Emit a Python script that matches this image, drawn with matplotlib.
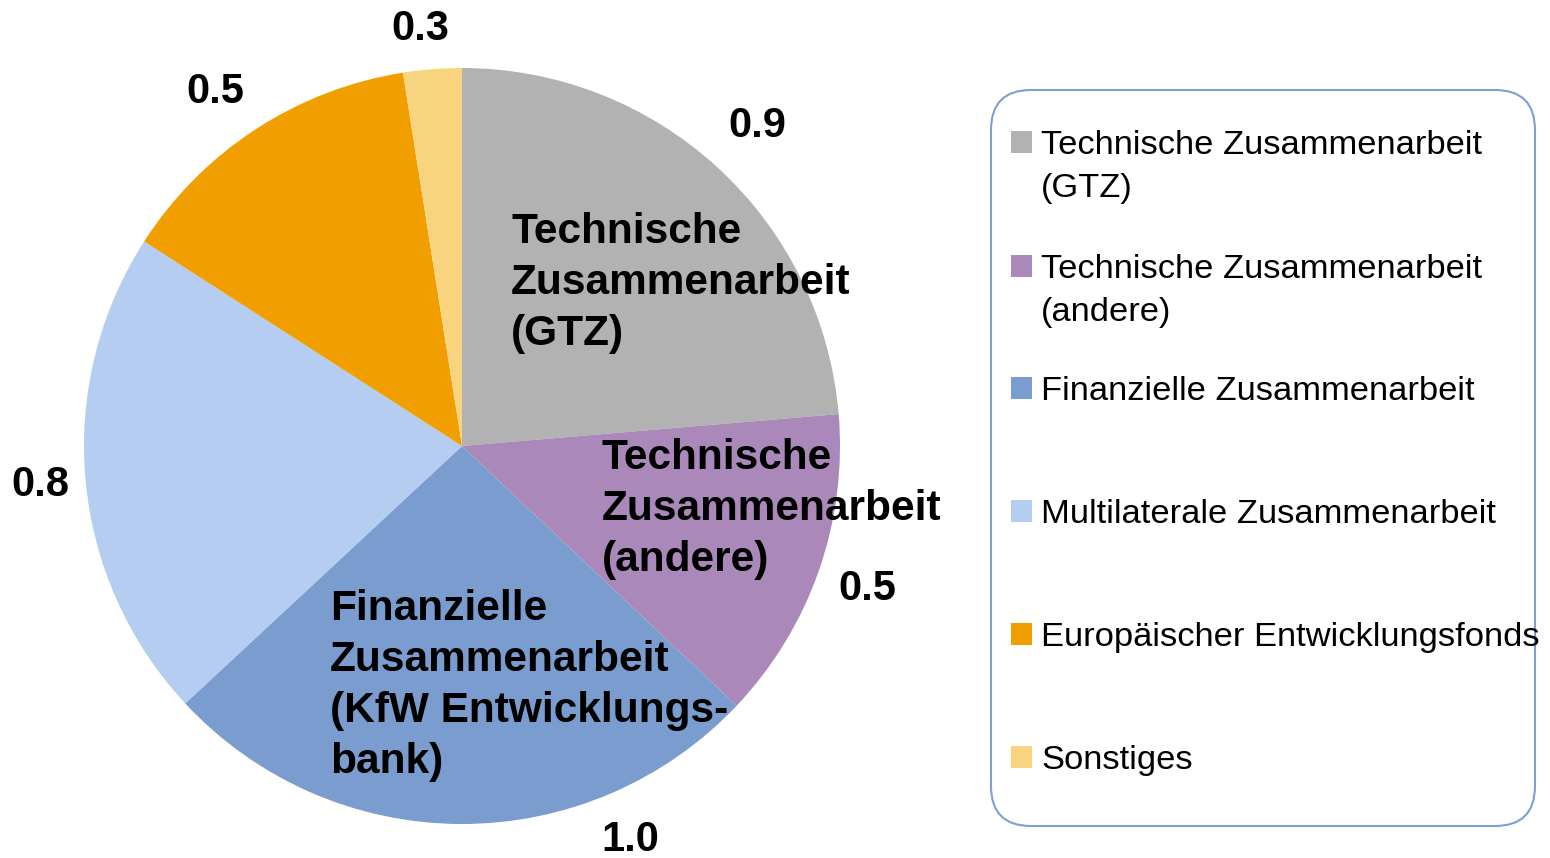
import matplotlib
matplotlib.use("Agg")
import matplotlib.pyplot as plt
from matplotlib.patches import FancyBboxPatch, Rectangle

plt.rcParams['font.family'] = ['Liberation Sans', 'DejaVu Sans']

categories = ["Technische Zusammenarbeit\n(GTZ)",
              "Technische Zusammenarbeit\n(andere)",
              "Finanzielle Zusammenarbeit",
              "Multilaterale Zusammenarbeit",
              "Europäischer Entwicklungsfonds",
              "Sonstiges"]
values = [0.90, 0.51, 0.99, 0.80, 0.51, 0.095]
value_labels = ["0.9", "0.5", "1.0", "0.8", "0.5", "0.3"]
colors = ["#B2B2B2", "#AB88BA", "#7B9CCE", "#B4CDF1", "#F09E00", "#F9D47E"]
inner_labels = ["Technische\nZusammenarbeit\n(GTZ)",
                "Technische\nZusammenarbeit\n(andere)",
                "Finanzielle\nZusammenarbeit\n(KfW Entwicklungs-\nbank)"]

W, H = 1550, 858
fig = plt.figure(figsize=(W / 100, H / 100), dpi=100)
ax = fig.add_axes([0, 0, 1, 1])

cx, cy, r = 462, H - 446, 378
ax.pie(values, colors=colors, startangle=90, counterclock=False,
       center=(cx, cy), radius=r, frame=True,
       wedgeprops=dict(linewidth=0))
ax.set_xlim(0, W)
ax.set_ylim(0, H)
ax.set_aspect('equal')
ax.axis('off')

# value labels (outside), baseline positions
label_pos = [(757, 137), (867, 600), (630, 851), (40, 496), (215, 103), (420, 40)]
for txt, (x, y) in zip(value_labels, label_pos):
    ax.text(x, H - y, txt, ha='center', va='baseline', fontsize=30,
            fontweight='bold', color='black')

# inner labels: first-line baseline, 51 px line step
inner_pos = [(511, 243), (602, 469), (330, 620)]
for txt, (x, y) in zip(inner_labels, inner_pos):
    for i, line in enumerate(txt.split("\n")):
        ax.text(x, H - (y + 51 * i), line, ha='left', va='baseline',
                fontsize=30.5, fontweight='bold', color='black')

# legend box
box = FancyBboxPatch((991 + 40, H - 826 + 40), 544 - 80, 736 - 80,
                     boxstyle="round,pad=40", facecolor='white',
                     edgecolor='#7F9FD4', linewidth=1.5, zorder=3)
ax.add_patch(box)
leg_y = [142, 266, 388, 511, 634, 757]
for cat, col, y in zip(categories, colors, leg_y):
    ax.add_patch(Rectangle((1011, H - y - 11), 21, 22, facecolor=col,
                           edgecolor='none', zorder=4))
    for i, line in enumerate(cat.split("\n")):
        ax.text(1041, H - (y + 12 + 43 * i), line, ha='left', va='baseline',
                fontsize=24.8, color='black', zorder=5)

fig.savefig("out.png", dpi=100)
